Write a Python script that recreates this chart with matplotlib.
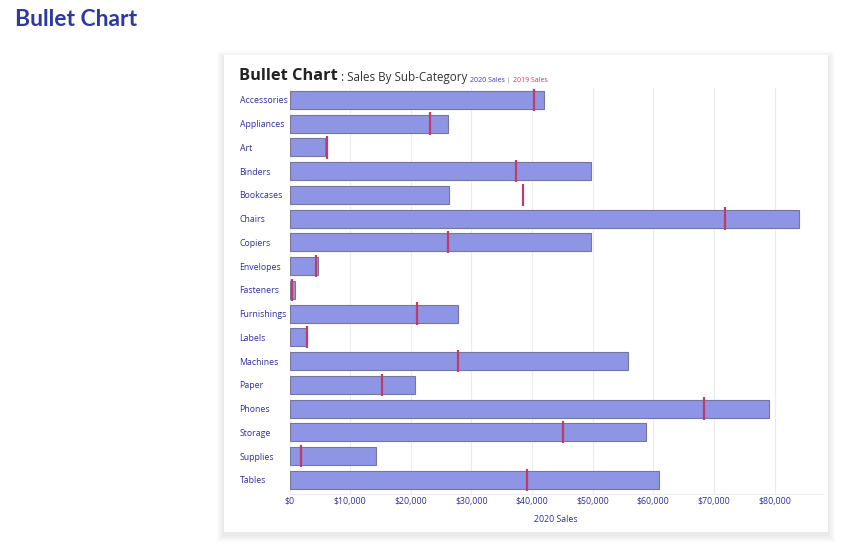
import matplotlib
matplotlib.use('Agg')
import matplotlib.pyplot as plt
from matplotlib.patches import FancyBboxPatch

# Sales by sub-category, 2020 bars with 2019 markers
categories = ['Accessories', 'Appliances', 'Art', 'Binders', 'Bookcases', 'Chairs',
              'Copiers', 'Envelopes', 'Fasteners', 'Furnishings', 'Labels', 'Machines',
              'Paper', 'Phones', 'Storage', 'Supplies', 'Tables']
sales_2020 = [41900, 26100, 5850, 49750, 26300, 84000, 49700, 4700, 900, 27800,
              2800, 55900, 20700, 79100, 58800, 14300, 60900]
sales_2019 = [40400, 23100, 6200, 37400, 38500, 71800, 26200, 4400, 450, 21100,
              2900, 27800, 15200, 68300, 45100, 1900, 39200]
xticks = [0, 10000, 20000, 30000, 40000, 50000, 60000, 70000, 80000]

blue_txt = '#2f2f9a'
bar_col = '#8e95e4'
mark_col = '#c43a66'

fig = plt.figure(figsize=(8.6, 5.45), dpi=100)
fig.patch.set_facecolor('white')

# card with a soft shadow, a bit heavier below
W, H = 860.0, 545.0
for k in range(7, 0, -1):
    fig.patches.append(FancyBboxPatch(((224 - k) / W, 1 - (532 + k + 3) / H),
                                      (604 + 2 * k) / W, (477 + 2 * k) / H,
                                      boxstyle='square,pad=0', transform=fig.transFigure,
                                      facecolor='#000000', alpha=0.012, edgecolor='none', zorder=0))
fig.patches.append(FancyBboxPatch((224 / W, 1 - 532 / H), 604 / W, 477 / H,
                                  boxstyle='square,pad=0', transform=fig.transFigure,
                                  facecolor='white', edgecolor='none', zorder=1))

fig.text(15 / W, 1 - 19 / H, 'Bullet Chart', fontsize=16.5, fontweight='bold',
         color='#2d3aa0', family='Lato', va='center', ha='left')

ax = fig.add_axes([289.5 / W, 1 - 494 / H, 533.5 / W, 406 / H])
ax.set_zorder(2)
ax.patch.set_alpha(0)

y = list(range(len(categories)))
ax.barh(y, sales_2020, height=0.76, color=bar_col, edgecolor='#74779a', linewidth=0.8, zorder=2)
ax.vlines(sales_2019, [v - 0.47 for v in y], [v + 0.47 for v in y], color=mark_col,
          linewidth=1.6, zorder=3)

ax.set_xlim(0, 88000)
ax.set_ylim(len(categories) - 0.4, -0.5)
ax.set_xticks(xticks)
ax.set_xticklabels(['${:,}'.format(v) for v in xticks])
ax.set_yticks(y)
ax.set_yticklabels(categories)
ax.grid(axis='x', color='#ececec', linewidth=0.8, zorder=0)
for s in ['top', 'right', 'left']:
    ax.spines[s].set_visible(False)
ax.spines['bottom'].set_color('#ececec')
ax.tick_params(length=0, labelsize=6.3, labelcolor=blue_txt)
ax.tick_params(axis='x', pad=2)
for lab in ax.get_yticklabels():
    lab.set_ha('left')
    lab.set_family('Open Sans')
for lab in ax.get_xticklabels():
    lab.set_family('Open Sans')
ax.tick_params(axis='y', pad=36)
ax.set_xlabel('2020 Sales', fontsize=6.3, color=blue_txt, family='Open Sans', labelpad=7)

# card title pieces chained left to right
t1 = fig.text(239 / W, 1 - 80 / H, 'Bullet Chart', fontsize=11.8, fontweight='bold',
              color='#222222', family='Open Sans', va='baseline', zorder=3)
t2 = ax.annotate(' : Sales By Sub-Category ', xy=(1, 0), xycoords=t1, va='bottom',
                 fontsize=8.4, color='#333333', family='Open Sans', annotation_clip=False)
t3 = ax.annotate('2020 Sales', xy=(1, 0), xycoords=t2, va='bottom',
                 fontsize=5.0, color='#3a3ab0', family='Open Sans', annotation_clip=False)
t4 = ax.annotate(' | ', xy=(1, 0), xycoords=t3, va='bottom',
                 fontsize=5.0, color='#888888', family='Open Sans', annotation_clip=False)
t5 = ax.annotate('2019 Sales', xy=(1, 0), xycoords=t4, va='bottom',
                 fontsize=5.0, color=mark_col, family='Open Sans', annotation_clip=False)

fig.savefig('out.png', dpi=100)
